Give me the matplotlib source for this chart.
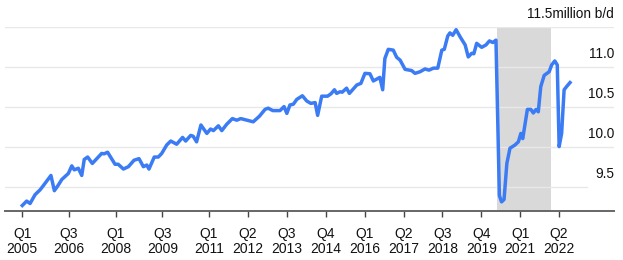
import matplotlib.pyplot as plt
import matplotlib.transforms as mtransforms

plt.rcParams['font.family'] = ['Liberation Sans', 'DejaVu Sans']

# decimal years and production, million b/d
years = [2005.00, 2005.14, 2005.25, 2005.41, 2005.57, 2005.67, 2005.92, 2006.03,
         2006.14, 2006.27, 2006.48, 2006.59, 2006.67, 2006.80, 2006.91, 2006.99,
         2007.10, 2007.25, 2007.55, 2007.63, 2007.74, 2007.98, 2008.08, 2008.25,
         2008.41, 2008.59, 2008.75, 2008.89, 2009.00, 2009.07, 2009.24, 2009.37,
         2009.48, 2009.64, 2009.77, 2009.96, 2010.15, 2010.25, 2010.41, 2010.49,
         2010.60, 2010.74, 2010.93, 2011.05, 2011.14, 2011.30, 2011.41, 2011.57,
         2011.75, 2011.89, 2012.02, 2012.42, 2012.62, 2012.80, 2012.90, 2013.05,
         2013.28, 2013.41, 2013.50, 2013.60, 2013.71, 2013.82, 2014.00, 2014.14,
         2014.27, 2014.41, 2014.49, 2014.62, 2014.81, 2014.92, 2015.03, 2015.10,
         2015.21, 2015.28, 2015.42, 2015.51, 2015.75, 2015.88, 2016.01, 2016.17,
         2016.28, 2016.49, 2016.58, 2016.65, 2016.76, 2016.92, 2017.03, 2017.14,
         2017.30, 2017.51, 2017.62, 2017.78, 2017.94, 2018.07, 2018.21, 2018.35,
         2018.48, 2018.56, 2018.67, 2018.74, 2018.83, 2018.94, 2019.07, 2019.23,
         2019.33, 2019.44, 2019.51, 2019.60, 2019.76, 2019.90, 2020.01, 2020.12,
         2020.22, 2020.33, 2020.40, 2020.48, 2020.57, 2020.67, 2020.83, 2020.94,
         2021.02, 2021.08, 2021.23, 2021.34, 2021.42, 2021.51, 2021.58, 2021.66,
         2021.77, 2021.93, 2022.01, 2022.11, 2022.19, 2022.25, 2022.33, 2022.41,
         2022.49, 2022.60]
values = [9.275, 9.33, 9.30, 9.41, 9.47, 9.52, 9.65, 9.46,
          9.52, 9.60, 9.675, 9.77, 9.72, 9.74, 9.65, 9.85,
          9.88, 9.80, 9.925, 9.92, 9.94, 9.79, 9.79, 9.73,
          9.76, 9.84, 9.86, 9.76, 9.78, 9.73, 9.88, 9.88,
          9.925, 10.03, 10.08, 10.04, 10.125, 10.08, 10.15, 10.14,
          10.07, 10.28, 10.175, 10.23, 10.21, 10.27, 10.21, 10.29,
          10.36, 10.34, 10.36, 10.32, 10.39, 10.475, 10.49, 10.46,
          10.46, 10.51, 10.425, 10.53, 10.54, 10.60, 10.645, 10.58,
          10.55, 10.56, 10.40, 10.64, 10.64, 10.67, 10.72, 10.675,
          10.695, 10.69, 10.74, 10.675, 10.78, 10.80, 10.925, 10.92,
          10.83, 10.875, 10.72, 11.11, 11.225, 11.215, 11.125, 11.09,
          10.975, 10.96, 10.925, 10.945, 10.98, 10.965, 10.99, 10.99,
          11.215, 11.225, 11.39, 11.43, 11.40, 11.47, 11.38, 11.28,
          11.13, 11.175, 11.17, 11.30, 11.25, 11.28, 11.33, 11.31,
          11.34, 9.40, 9.32, 9.35, 9.80, 9.99, 10.03, 10.07,
          10.175, 10.11, 10.475, 10.475, 10.43, 10.475, 10.445, 10.76,
          10.90, 10.945, 11.03, 11.08, 11.03, 10.01, 10.175, 10.72,
          10.76, 10.81]

shade_span = (2020.25, 2022.0)

tick_pos = [2005.0, 2006.5, 2008.0, 2009.5, 2011.0, 2012.25, 2013.5,
            2014.75, 2016.0, 2017.25, 2018.5, 2019.75, 2021.0, 2022.25]
tick_labels = ['Q1\n2005', 'Q3\n2006', 'Q1\n2008', 'Q3\n2009', 'Q1\n2011',
               'Q2\n2012', 'Q3\n2013', 'Q4\n2014', 'Q1\n2016', 'Q2\n2017',
               'Q3\n2018', 'Q4\n2019', 'Q1\n2021', 'Q2\n2022']
y_levels = [9.5, 10.0, 10.5, 11.0, 11.5]
y_labels = ['9.5', '10.0', '10.5', '11.0', '11.5million b/d']

fig = plt.figure(figsize=(6.23, 2.6), dpi=100)
ax = fig.add_axes([5 / 623, 49.3 / 260, 609 / 623, 183.4 / 260])
ax.set_xlim(2004.444, 2024.013)
ax.set_ylim(9.21, 11.5)

ax.axvspan(shade_span[0], shade_span[1], color='#d9d9d9', lw=0, zorder=0)

# gridlines; the lowest one stops short of its label
for lev in y_levels:
    xmax = 0.955 if lev == 9.5 else 1.0
    ax.axhline(lev, xmin=0, xmax=xmax, color='#e8e8e8', lw=1, zorder=1)

ax.plot(years, values, color='#3b7cf5', lw=2.5, solid_joinstyle='round', zorder=3)

offset = mtransforms.offset_copy(ax.get_yaxis_transform(), fig=fig, x=0, y=9.5, units='points')
for lev, lab in zip(y_levels, y_labels):
    ax.text(1.0, lev, lab, transform=offset, ha='right', va='center',
            fontsize=9.8, color='#111111')

for s in ['top', 'right', 'left']:
    ax.spines[s].set_visible(False)
ax.spines['bottom'].set_color('#666666')
ax.spines['bottom'].set_linewidth(1.4)

ax.set_yticks([])
ax.set_xticks(tick_pos)
ax.set_xticklabels(tick_labels, fontsize=10, color='#111111', linespacing=1.15)
ax.tick_params(axis='x', length=4, width=1, color='#444444', pad=7.5)

fig.savefig('out.png', dpi=100)
